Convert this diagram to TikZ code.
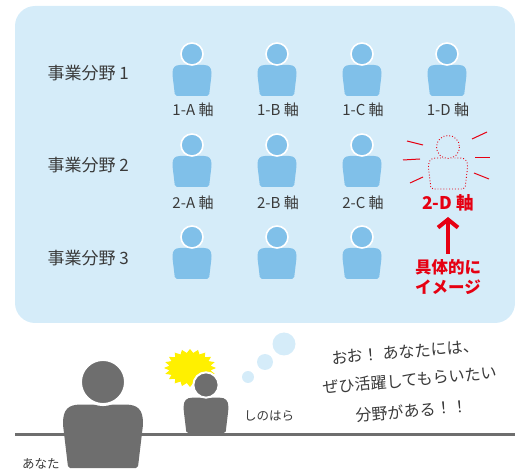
\documentclass[tikz,border=0pt]{standalone}
\usepackage{fontspec}
\newfontfamily\jp{Noto Sans CJK JP}
\usetikzlibrary{shapes.geometric,arrows.meta}

\definecolor{panel}{HTML}{D5ECF9}
\definecolor{iconblue}{HTML}{80C0E9}
\definecolor{ink}{HTML}{3A3A3A}
\definecolor{alert}{HTML}{E60012}
\definecolor{figgrey}{HTML}{6E6E6E}
\definecolor{flash}{HTML}{FFF000}

\tikzset{
  ringwidth/.initial=1.6pt,
  % body outline of a silhouette, head centred on the origin
  bodypath/.style={rounded corners=2},
  person/.pic={
    \path[pic actions, bodypath] (-17,42) -- (-19.5,21)
      .. controls (-19.5,13.5) and (-17,11) .. (-10,11) -- (10,11)
      .. controls (17,11) and (19.5,13.5) .. (19.5,21) -- (17,42) -- cycle;
    \path[pic actions, draw=white, line width=\pgfkeysvalueof{/tikz/ringwidth}] (0,0) circle[radius=11];
  },
  % dotted outline of the same silhouette
  ghost/.pic={
    \draw[alert, dotted, line width=0.9pt, bodypath] (-17,42) -- (-19.5,21)
      .. controls (-19.5,13.5) and (-17,11) .. (-10,11) -- (10,11)
      .. controls (17,11) and (19.5,13.5) .. (19.5,21) -- (17,42) -- cycle;
    \fill[panel] (0,0) circle[radius=12.5];
    \draw[alert, dotted, line width=0.9pt] (0,0) circle[radius=11.5];
  },
  rowlabel/.style={anchor=west, text=ink, font=\jp\fontsize{17}{18}\selectfont},
  axislabel/.style={text=ink, font=\jp\fontsize{15}{16}\selectfont},
  redlabel/.style={text=alert, font=\jp\bfseries\fontsize{17.5}{20}\selectfont, align=center},
  ray/.style={alert, line width=1pt},
  hand/.style={text=ink, font=\jp\fontsize{12.5}{14}\selectfont},
  remarkline/.style={text=ink, font=\jp\fontsize{16}{18}\selectfont, inner sep=0pt, rotate=5},
}

\begin{document}
\begin{tikzpicture}[x=1pt, y=-1pt]
  \useasboundingbox (0,0) rectangle (515,476);

  % background panel
  \fill[panel, rounded corners=20] (15,6) rectangle (515,323);

  % row titles
  \node[rowlabel] (row1) at (44,73)  {事業分野 1};
  \node[rowlabel] (row2) at (44,165) {事業分野 2};
  \node[rowlabel] (row3) at (44,258) {事業分野 3};

  % row 1
  \pic[fill=iconblue] (p1a) at (192,54) {person};
  \pic[fill=iconblue] (p1b) at (277,54) {person};
  \pic[fill=iconblue] (p1c) at (362,54) {person};
  \pic[fill=iconblue] (p1d) at (447,54) {person};
  \node[axislabel] (l1a) at (193,110) {1-A 軸};
  \node[axislabel] (l1b) at (278,110) {1-B 軸};
  \node[axislabel] (l1c) at (363,110) {1-C 軸};
  \node[axislabel] (l1d) at (448,110) {1-D 軸};

  % row 2
  \pic[fill=iconblue] (p2a) at (192,145) {person};
  \pic[fill=iconblue] (p2b) at (277,145) {person};
  \pic[fill=iconblue] (p2c) at (362,145) {person};
  \pic (p2d) at (448,147) {ghost};
  \node[axislabel] (l2a) at (193,203) {2-A 軸};
  \node[axislabel] (l2b) at (278,203) {2-B 軸};
  \node[axislabel] (l2c) at (363,203) {2-C 軸};
  \node[redlabel] (l2d) at (448,203) {2-D 軸};

  % rays around the imagined member
  \draw[ray] (407,141) -- (423,145);
  \draw[ray] (403,160) -- (420,159);
  \draw[ray] (410,183) -- (423,177);
  \draw[ray] (472,139) -- (487,132);
  \draw[ray] (475,158) -- (490,158);
  \draw[ray] (474,173) -- (489,179);

  % row 3
  \pic[fill=iconblue] (p3a) at (192,237) {person};
  \pic[fill=iconblue] (p3b) at (277,237) {person};
  \pic[fill=iconblue] (p3c) at (362,237) {person};

  % arrow and caption
  \node[redlabel, font=\jp\bfseries\fontsize{16.5}{20}\selectfont] (concrete) at (448,277) {具体的に\\イメージ};
  \coordinate (arrowtail) at (448,254);
  \coordinate (arrowtip) at (448,217);
  \draw[alert, line width=4pt, -{Straight Barb[length=8pt, width=20pt]}] (arrowtail) -- (arrowtip);

  % floor line
  \draw[figgrey, line width=3pt] (15,434) -- (515,434);

  % flash behind the small figure
  \fill[flash] plot[samples=41, domain=0:360]
    ({190 + 26*(1 - 0.2*mod(round(\x/9),2))*cos(\x)},
     {368 + 19*(1 - 0.2*mod(round(\x/9),2))*sin(\x)}) -- cycle;

  % small figure standing behind the floor line
  \begin{scope}
    \clip (0,0) rectangle (515,433);
    \pic[fill=figgrey, scale=1.15, ringwidth=2pt] (shino) at (206,385) {person};
  \end{scope}
  \node[hand] (shinoname) at (269,416) {しのはら};

  % thought bubbles
  \fill[panel] (248,377) circle[radius=6];
  \fill[panel] (265,362) circle[radius=8];
  \fill[panel] (284,344) circle[radius=11.5];

  % spoken thought, one tilted line at a time
  \node[remarkline] (remark1) at (405,352) {おお！ あなたには、};
  \node[remarkline] (remark2) at (410,380) {ぜひ活躍してもらいたい};
  \node[remarkline] (remark3) at (412,411) {分野がある！！};

  % large figure in front
  \pic[fill=figgrey, scale=2.05, ringwidth=3pt] (you) at (103,382) {person};
  \node[hand] (youname) at (41,464) {あなた};
\end{tikzpicture}
\end{document}
